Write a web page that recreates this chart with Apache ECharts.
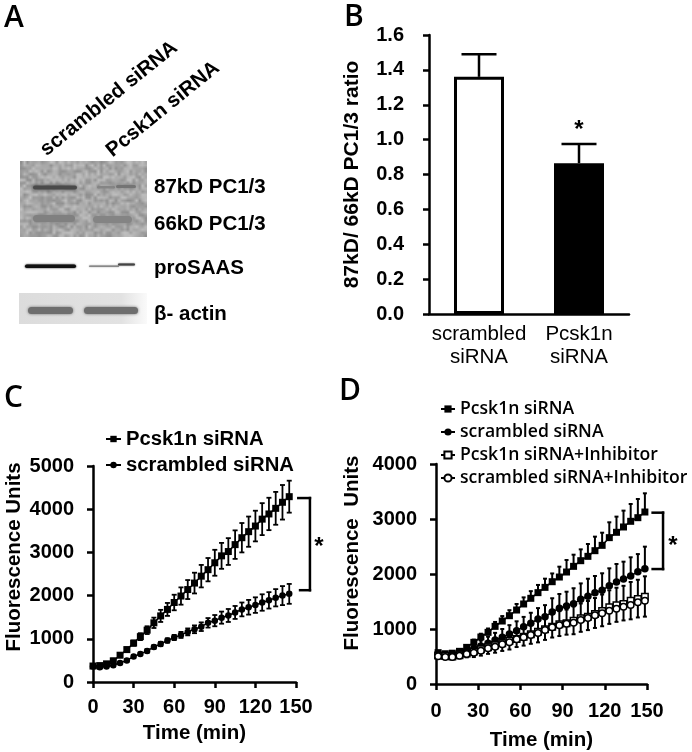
<!DOCTYPE html>
<html><head><meta charset="utf-8">
<style>html,body{margin:0;padding:0;background:#fff}#c{width:692px;height:752px;filter:blur(0.4px)}</style>
<script src="https://cdn.jsdelivr.net/npm/echarts@6/dist/echarts.min.js"></script>
</head><body><div id="c"></div>
<script>
// ---- Panel B ----
const barCategories = ['scrambled\nsiRNA', 'Pcsk1n\nsiRNA'];
const barValues = [1.36, 0.865];
const barErrors = [0.13, 0.11];
const barTicks = ['0.0','0.2','0.4','0.6','0.8','1.0','1.2','1.4','1.6'];

// ---- Panel C ----
const timesC = [0,5,10,15,20,25,30,35,40,45,50,55,60,65,70,75,80,85,90,95,100,105,110,115,120,125,130,135,140,145];
const pcskC = [370,380,420,490,620,750,900,1050,1200,1370,1530,1680,1840,1990,2140,2290,2450,2600,2760,2920,3020,3180,3340,3480,3610,3770,3890,4020,4160,4290];
const pcskCErr = [30,30,40,50,40,50,60,80,90,120,140,150,180,200,220,240,260,270,300,300,310,330,340,350,355,370,375,380,400,370];
const scrC = [360,340,360,390,440,500,590,650,720,810,880,960,1030,1090,1160,1220,1280,1370,1420,1490,1540,1610,1680,1730,1780,1840,1890,1950,2000,2040];
const scrCErr = [30,30,30,30,30,30,30,30,40,40,50,50,60,70,80,90,100,110,130,140,150,150,160,170,180,190,190,200,220,230];
const bracketC = [[151.7,4258],[160.3,4258],[160.3,2125],[153,2125]];

// ---- Panel D ----
const timesD = [1.5,6.6,11.6,16.7,21.8,26.9,31.9,37,42,47.1,52.2,57.3,62.3,67.4,72.5,77.5,82.6,87.7,92.8,97.8,102.9,108,113,118.1,123.2,128.3,133.3,138.4,143.5,148.5];
const pcskD = [570,550,560,594,666,757,854,939,1048,1145,1242,1345,1455,1558,1661,1757,1860,1945,2036,2139,2242,2321,2424,2521,2661,2758,2855,2958,3024,3127];
const pcskDErr = [30,25,25,30,40,50,60,70,80,90,100,110,120,130,140,158,150,188,218,212,206,224,255,230,279,285,297,315,340,340];
const scrD = [530,510,515,545,590,645,690,740,800,850,910,970,1040,1105,1180,1224,1309,1376,1418,1461,1539,1594,1661,1703,1788,1855,1909,1964,2042,2097];
const scrDErr = [20,20,30,40,60,80,100,120,130,150,160,170,180,190,200,210,250,260,260,280,290,320,303,310,315,327,315,340,320,400];
const pcskInhD = [520,510,500,525,555,590,630,670,705,740,785,820,860,905,950,994,1042,1085,1103,1152,1194,1224,1273,1327,1394,1430,1455,1515,1545,1588];
const pcskInhDErr = [20,20,30,40,50,70,85,100,120,130,150,160,170,190,200,220,230,240,250,260,270,285,290,300,310,320,330,340,350,370];
const scrInhD = [503,491,491,515,545,570,606,648,679,721,757,812,848,891,927,982,1030,1067,1097,1115,1164,1200,1249,1285,1333,1370,1406,1436,1485,1515];
const scrInhDErr = [20,20,30,45,60,80,90,100,110,120,130,140,150,160,170,180,185,195,200,210,215,220,230,235,240,240,250,260,275,290];
const bracketD = [[154,3115],[161.4,3115],[161.4,2090],[154,2090]];

const nameP = 'Pcsk1n siRNA', nameS = 'scrambled siRNA';
const namePI = 'Pcsk1n siRNA+Inhibitor', nameSI = 'scrambled siRNA+Inhibitor';

const AR = 'Liberation Sans, Arial, sans-serif';
const BLACK = '#000';
const zip = (xs, ys, es) => xs.map((x, i) => [x, ys[i], es[i]]);

function errSeries(name, xi, yi, data, up, down, capPx, width, z) {
  return {
    type: 'custom', name, xAxisIndex: xi, yAxisIndex: yi, z, clip: false,
    silent: true, encode: { x: 0, y: 1 }, data,
    renderItem(params, api) {
      const x = api.value(0), y = api.value(1), e = api.value(2);
      const mid = api.coord([x, y]);
      const st = { stroke: BLACK, lineWidth: width, fill: null };
      const seg = (x1, y1, x2, y2) => ({ type: 'line', shape: { x1, y1, x2, y2 }, style: st });
      const ch = [];
      if (up) { const p = api.coord([x, y + e]);
        ch.push(seg(mid[0], mid[1], p[0], p[1]), seg(p[0] - capPx, p[1], p[0] + capPx, p[1])); }
      if (down) { const p = api.coord([x, y - e]);
        ch.push(seg(mid[0], mid[1], p[0], p[1]), seg(p[0] - capPx, p[1], p[0] + capPx, p[1])); }
      return { type: 'group', children: ch };
    }
  };
}
function lineSeries(name, xi, yi, xs, ys, symbol, size, filled, z) {
  return {
    type: 'line', name, xAxisIndex: xi, yAxisIndex: yi, z,
    data: xs.map((x, i) => [x, ys[i]]),
    symbol, symbolSize: size, showSymbol: true, clip: false, silent: true,
    lineStyle: { color: BLACK, width: 1.5 },
    itemStyle: filled ? { color: BLACK, borderColor: BLACK, borderWidth: 0, opacity: 1 }
                      : { color: '#fff', borderColor: BLACK, borderWidth: 1.5, opacity: 1 },
    animation: false
  };
}
// bracket through the axis scale: one segment per data point, to the next point
function bracket(name, xi, yi, data) {
  return { type: 'custom', name, xAxisIndex: xi, yAxisIndex: yi, clip: false, silent: true, encode: { x: 0, y: 1 },
    data: data.map((p, i) => [p[0], p[1], i]),
    renderItem(params, api) {
      const i = api.value(2);
      if (i >= data.length - 1) return { type: 'group', children: [] };
      const a = api.coord(data[i]), b = api.coord(data[i + 1]);
      return { type: 'line', shape: { x1: a[0], y1: a[1], x2: b[0], y2: b[1] },
        style: { stroke: BLACK, lineWidth: 2.5, lineCap: 'square', fill: null } };
    } };
}
const tickPlain = (v) => String(v);
function valAxis(gi, max, interval, extra) {
  return Object.assign({
    type: 'value', gridIndex: gi, min: 0, max, interval, splitLine: { show: false },
    axisLine: { show: true, onZero: false, lineStyle: { color: BLACK, width: 2.5 } },
    axisTick: { show: true, length: 6, lineStyle: { color: BLACK, width: 2.5 } },
    axisLabel: { color: BLACK, fontFamily: AR, fontWeight: 'bold', fontSize: 20, margin: 19, formatter: tickPlain },
    nameLocation: 'middle',
    nameTextStyle: { color: BLACK, fontFamily: AR, fontWeight: 'bold', fontSize: 20.5 }
  }, extra || {});
}

function mottle(w, h) {
  const s = document.createElement('canvas'); s.width = Math.ceil(w / 3); s.height = Math.ceil(h / 3);
  const c = s.getContext('2d');
  for (let j = 0; j < s.height; j++) for (let i = 0; i < s.width; i++) {
    const v = Math.sin(i * 12.9898 + j * 78.233) * 43758.5453; const f = v - Math.floor(v);
    const g = Math.round(143 + f * 50);
    c.fillStyle = `rgb(${g},${g},${g})`; c.fillRect(i, j, 1, 1);
  }
  const o = document.createElement('canvas'); o.width = w; o.height = h;
  const d = o.getContext('2d'); d.imageSmoothingEnabled = true; d.drawImage(s, 0, 0, w, h);
  return o;
}
const band = (x, y, w, h, color, blur) => ({ type: 'rect', shape: { x, y, width: w, height: h, r: h / 2 },
  style: { fill: color, shadowBlur: blur, shadowColor: color }, silent: true, z: 5 });
const label = (x, y, text, size, extra) => Object.assign({ type: 'text', x, y, z: 20, silent: true,
  style: { text, fill: BLACK, font: `bold ${size}px Liberation Sans, Arial, sans-serif`, verticalAlign: 'middle', align: 'left' } }, extra || {});
const letter = (x, y, t) => ({ type: 'text', x, y, z: 20, silent: true,
  style: { text: t, fill: BLACK, font: '600 30px "Open Sans", sans-serif', verticalAlign: 'middle', align: 'left' } });
const star = (x, y) => ({ type: 'text', x, y, z: 20, silent: true,
  style: { text: '*', fill: BLACK, font: 'bold 24px Liberation Sans, Arial, sans-serif', verticalAlign: 'middle', align: 'center' } });

const graphics = [
  letter(4, 18, 'A'), letter(344, 17, 'B'), letter(4, 398, 'C'), letter(339, 391, 'D'),
  { type: 'image', silent: true, z: 1, style: { image: mottle(127, 76), x: 20, y: 161, width: 127, height: 76 } },
  band(33, 185.5, 44, 4, '#4a4a4a', 4), band(97, 186, 18, 2.5, '#858585', 4), band(116, 185, 20, 3, '#747474', 4),
  band(33, 215, 42, 7, '#808080', 6), band(93, 216, 39, 7, '#848484', 6),
  band(25, 264.5, 51, 3.5, '#111', 2), band(89, 265.5, 30, 1.5, '#888', 1.5), band(118, 263.5, 17, 2, '#444', 1.5),
  { type: 'rect', silent: true, z: 1, shape: { x: 19, y: 293, width: 128, height: 31 },
    style: { fill: { type: 'linear', x: 0, y: 0, x2: 1, y2: 0,
      colorStops: [{ offset: 0, color: '#dcdcdc' }, { offset: 0.8, color: '#e2e2e2' }, { offset: 1, color: '#fafafa' }] } } },
  band(28, 307, 45, 7, '#6e6e6e', 3), band(84, 307, 54, 7, '#6e6e6e', 3),
  label(43, 152, 'scrambled siRNA', 20.5, { rotation: 39 * Math.PI / 180 }),
  label(109, 153, 'Pcsk1n siRNA', 20.5, { rotation: 39 * Math.PI / 180 }),
  label(154, 187, '87kD PC1/3', 20.5), label(154, 224, '66kD PC1/3', 20.5),
  label(154, 268, 'proSAAS', 20.5), label(154, 314, 'β- actin', 20.5),
  star(579, 130), star(319, 547), star(673, 546)
];

const option = {
  animation: false,
  backgroundColor: '#fff',
  grid: [
    { left: 429, top: 35, width: 200, height: 279, outerBoundsMode: 'none' },
    { left: 93, top: 466, width: 203, height: 216, outerBoundsMode: 'none' },
    { left: 436, top: 464, width: 211, height: 220, outerBoundsMode: 'none' }
  ],
  legend: [
    { left: 105, top: 429, padding: 0, orient: 'vertical', itemWidth: 15, itemHeight: 8, itemGap: 6, data: [nameP, nameS], selectedMode: false,
      textStyle: { color: BLACK, fontFamily: AR, fontWeight: 'bold', fontSize: 20.3, padding: 0 } },
    { left: 440, top: 400, padding: 0, orient: 'vertical', itemWidth: 14, itemHeight: 9, itemGap: 5, data: [nameP, nameS, namePI, nameSI], selectedMode: false,
      textStyle: { color: BLACK, fontFamily: '"Open Sans", sans-serif', fontWeight: 600, fontSize: 17.6, padding: 0 } }
  ],
  xAxis: [
    { type: 'category', gridIndex: 0, data: barCategories, axisTick: { show: false },
      axisLine: { onZero: false, lineStyle: { color: BLACK, width: 2.5 } },
      axisLabel: { color: BLACK, fontFamily: AR, fontSize: 20.5, lineHeight: 23, margin: 9, interval: 0 } },
    valAxis(1, 150, 30, { name: 'Time (min)', nameGap: 41, axisLabel: { color: BLACK, fontFamily: AR, fontWeight: 'bold', fontSize: 20, margin: 15, formatter: tickPlain } }),
    valAxis(2, 150, 30, { name: 'Time (min)', nameGap: 46, axisLabel: { color: BLACK, fontFamily: AR, fontWeight: 'bold', fontSize: 20, margin: 17, formatter: tickPlain } })
  ],
  yAxis: [
    valAxis(0, 1.6, 0.2, { name: '87kD/ 66kD PC1/3 ratio', nameRotate: 90, nameGap: 66,
      nameTextStyle: { color: BLACK, fontFamily: AR, fontWeight: 'bold', fontSize: 21 },
      axisLabel: { color: BLACK, fontFamily: AR, fontWeight: 'bold', fontSize: 20, margin: 25, formatter: (v) => barTicks[Math.round(v * 5)] } }),
    valAxis(1, 5000, 1000, { name: 'Fluorescence Units', nameRotate: 90, nameGap: 68,
      nameTextStyle: { color: BLACK, fontFamily: AR, fontWeight: 'bold', fontSize: 20.5, padding: [0, 0, 0, 34] } }),
    valAxis(2, 4000, 1000, { name: 'Fluorescence  Units', nameRotate: 90, nameGap: 73,
      nameTextStyle: { color: BLACK, fontFamily: AR, fontWeight: 'bold', fontSize: 20.5, padding: [0, 0, 0, 42] } })
  ],
  series: [
    { type: 'bar', xAxisIndex: 0, yAxisIndex: 0, barWidth: 50, silent: true, z: 3,
      data: [
        { value: barValues[0], itemStyle: { color: '#fff', borderColor: BLACK, borderWidth: 3 } },
        { value: barValues[1], itemStyle: { color: BLACK, borderColor: BLACK, borderWidth: 3 } }
      ] },
    errSeries('errB', 0, 0, barValues.map((v, i) => [i, v, barErrors[i]]), true, false, 17.5, 2.5, 2),

    errSeries('errC1', 1, 1, zip(timesC, pcskC, pcskCErr), true, true, 2.5, 1.8, 2),
    lineSeries(nameP, 1, 1, timesC, pcskC, 'rect', 7, true, 3),
    errSeries('errC2', 1, 1, zip(timesC, scrC, scrCErr), true, true, 2.5, 1.8, 2),
    lineSeries(nameS, 1, 1, timesC, scrC, 'circle', 6.5, true, 3),
    bracket('bracketC', 1, 1, bracketC),

    errSeries('errD1', 2, 2, zip(timesD, pcskD, pcskDErr), true, false, 2, 2, 2),
    lineSeries(nameP, 2, 2, timesD, pcskD, 'rect', 7, true, 3),
    errSeries('errD2', 2, 2, zip(timesD, scrD, scrDErr), true, false, 2, 2, 4),
    lineSeries(nameS, 2, 2, timesD, scrD, 'circle', 7.5, true, 5),
    errSeries('errD3', 2, 2, zip(timesD, pcskInhD, pcskInhDErr), true, false, 2, 2, 6),
    lineSeries(namePI, 2, 2, timesD, pcskInhD, 'rect', 6.5, false, 7),
    errSeries('errD4', 2, 2, zip(timesD, scrInhD, scrInhDErr), false, true, 2, 2, 8),
    lineSeries(nameSI, 2, 2, timesD, scrInhD, 'circle', 6.5, false, 9),
    bracket('bracketD', 2, 2, bracketD)
  ],
  graphic: { elements: graphics }
};
const chart = echarts.init(document.getElementById('c'), null, { renderer: 'canvas' });
chart.setOption(option);
</script></body></html>
